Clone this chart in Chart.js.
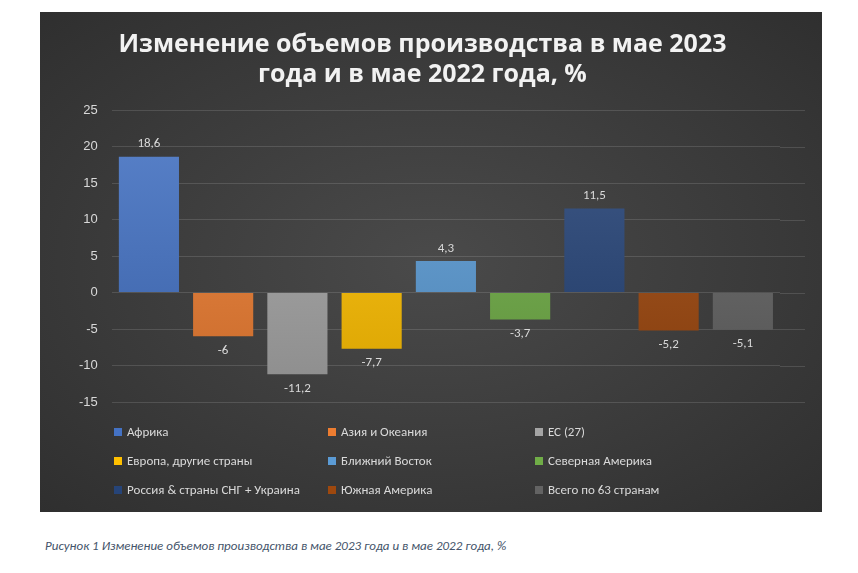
<!DOCTYPE html>
<html><head><meta charset="utf-8">
<script src="https://cdn.jsdelivr.net/npm/chart.js@4/dist/chart.umd.min.js"></script>
<style>
body{margin:0;background:#fff;font-family:Calibri,"Liberation Sans",Arial,sans-serif;}
#box{position:absolute;left:40px;top:12px;width:782px;height:500px;background:radial-gradient(ellipse at center,#4a4a4a 0%,#3a3a3a 60%,#2f2f2f 100%);}
#legend{position:absolute;left:74px;top:412px;width:700px;display:grid;grid-template-columns:214px 207px 260px;row-gap:14px;color:#d9d9d9;font-size:13px;}
#legend span.sw{display:inline-block;width:8px;height:8px;margin-right:5px;}
#cap{position:absolute;left:45px;top:538px;font-style:italic;font-size:13px;color:#44546a;}
</style></head><body>
<div id="box"><canvas id="c" width="782" height="500"></canvas><div id="legend"></div></div>
<div id="cap">Рисунок 1 Изменение объемов производства в мае 2023 года и в мае 2022 года, %</div>
<script>
const regions = ["Африка","Азия и Океания","ЕС (27)","Европа, другие страны","Ближний Восток","Северная Америка","Россия & страны СНГ + Украина","Южная Америка","Всего по 63 странам"];
const values = [18.6,-6,-11.2,-7.7,4.3,-3.7,11.5,-5.2,-5.1];
const colors = ["#4472C4","#ED7D31","#A5A5A5","#FFC000","#5B9BD5","#70AD47","#264478","#9E480E","#636363"];
const yTicks = [25,20,15,10,5,0,-5,-10,-15];

function shade(hex, f){
  const n=parseInt(hex.slice(1),16);let r=n>>16,g=(n>>8)&255,b=n&255;
  const m=v=>Math.max(0,Math.min(255,Math.round(f>0?v+(255-v)*f:v*(1+f))));
  return `rgb(${m(r)},${m(g)},${m(b)})`;
}

const labelPlugin = {
  id:"vals",
  afterDatasetsDraw(chart){
    const ctx=chart.ctx;ctx.save();
    ctx.font="13px Calibri, 'Liberation Sans', Arial";ctx.fillStyle="#d9d9d9";ctx.textAlign="center";
    chart.data.datasets.forEach((ds,i)=>{
      const el=chart.getDatasetMeta(i).data[0];const v=ds.data[0];
      const txt=String(v).replace(".",",");
      if(v>=0){ctx.textBaseline="bottom";ctx.fillText(txt,el.x,el.y-6);}
      else{ctx.textBaseline="top";ctx.fillText(txt,el.x,el.y+8);}
    });
    ctx.restore();
  }
};

// extend gridlines past the plot's right edge like the original
const gridExt = {
  id:"gridExt",
  beforeDatasetsDraw(chart){
    const {ctx,chartArea:a,scales:{y}}=chart;ctx.save();
    ctx.strokeStyle="rgba(255,255,255,0.13)";ctx.lineWidth=1;
    yTicks.forEach(v=>{const py=Math.round(y.getPixelForValue(v))+0.5;ctx.beginPath();ctx.moveTo(a.right,py);ctx.lineTo(a.right+25,py);ctx.stroke();});
    ctx.restore();
  }
};

new Chart(document.getElementById("c"),{
  type:"bar",
  data:{labels:[""],datasets:regions.map((r,i)=>({
    label:r,data:[values[i]],
    backgroundColor:(c)=>{
      const a=c.chart.chartArea;if(!a)return colors[i];
      const g=c.chart.ctx.createLinearGradient(0,a.top,0,a.bottom);
      g.addColorStop(0,shade(colors[i],0.12));g.addColorStop(1,shade(colors[i],-0.15));return g;
    }
  }))},
  options:{
    responsive:false,animation:false,
    layout:{padding:{left:25,right:42,top:0,bottom:110}},
    datasets:{bar:{categoryPercentage:1,barPercentage:0.81}},
    plugins:{
      legend:{display:false},tooltip:{enabled:false},
      title:{display:true,text:["Изменение объемов производства в мае 2023","года и в мае 2022 года, %"],color:"#f2f2f2",
        font:{size:25,weight:"bold",family:"'Open Sans', Arial"},lineHeight:1.3,padding:{top:18,bottom:20}}
    },
    scales:{
      x:{display:false},
      y:{min:-15,max:25,afterBuildTicks:s=>{s.ticks=yTicks.map(v=>({value:v}));},
        ticks:{color:"#d9d9d9",font:{size:13},padding:14},
        grid:{color:"rgba(255,255,255,0.13)",drawTicks:false},border:{display:false}},
    }
  },
  plugins:[labelPlugin,gridExt]
});

document.getElementById("legend").innerHTML=regions.map((r,i)=>`<div><span class="sw" style="background:${colors[i]}"></span>${r}</div>`).join("");
</script>
</body></html>
